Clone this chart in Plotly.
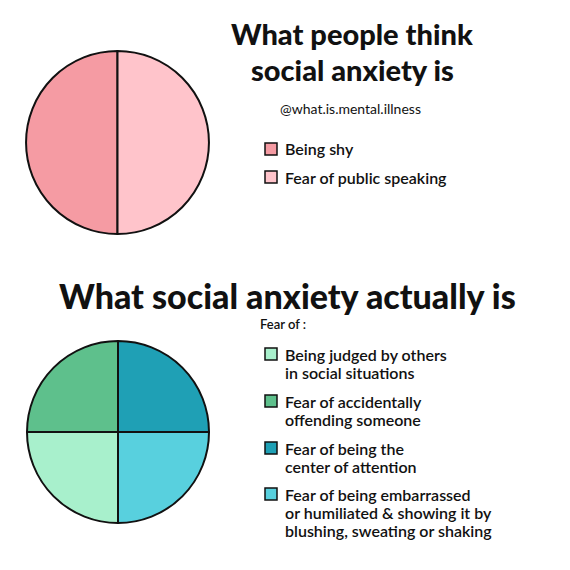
import plotly.graph_objects as go

# ---- data ----
think_labels = ["Being shy", "Fear of public speaking"]
think_values = [50, 50]
think_colors = ["#F59BA3", "#FFC4CB"]

actual_labels = [
    "Being judged by others<br>in social situations",
    "Fear of accidentally<br>offending someone",
    "Fear of being the<br>center of attention",
    "Fear of being embarrassed<br>or humiliated & showing it by<br>blushing, sweating or shaking",
]
actual_values = [25, 25, 25, 25]
actual_colors = ["#A8F0CC", "#5EC08C", "#1FA0B5", "#58D0DE"]

title_top = ["What people think", "social anxiety is"]
handle = "@what.is.mental.illness"
title_bottom = "What social anxiety actually is"
fear_of = "Fear of :"

W = H = 570
FONT = "Lato"


def px(x):
    return x / W


def py(y):
    return 1 - y / H


fig = go.Figure()

# top pie: two halves, clockwise from 6 o'clock so the first half sits on the left
fig.add_trace(go.Pie(
    labels=think_labels, values=think_values, sort=False,
    direction="clockwise", rotation=180,
    marker=dict(colors=think_colors, line=dict(color="#111111", width=2)),
    textinfo="none", hoverinfo="label", showlegend=False,
    domain=dict(x=[px(26), px(209)], y=[py(234), py(51)]),
))

# bottom pie: four quarters, clockwise from 6 o'clock
fig.add_trace(go.Pie(
    labels=actual_labels, values=actual_values, sort=False,
    direction="clockwise", rotation=180,
    marker=dict(colors=actual_colors, line=dict(color="#111111", width=2)),
    textinfo="none", hoverinfo="label", showlegend=False,
    domain=dict(x=[px(27), px(209)], y=[py(523), py(341)]),
))

annotations = []
shapes = []


def text(x, y, s, size, weight=400, xanchor="left"):
    annotations.append(dict(
        x=px(x), y=py(y), xref="paper", yref="paper", text=s, showarrow=False,
        xanchor=xanchor, yanchor="middle", align="left",
        font=dict(family=FONT, size=size, color="#111111", weight=weight),
    ))


def swatch(x, y, color):
    shapes.append(dict(
        type="rect", xref="paper", yref="paper",
        x0=px(x), x1=px(x + 12), y0=py(y + 6), y1=py(y - 6),
        fillcolor=color, line=dict(color="#111111", width=1.5),
    ))


# headings
for i, line in enumerate(title_top):
    text(352, 34 + i * 36, line, 29, 900, "center")
text(350, 108, handle, 14, 400, "center")
text(287, 296, title_bottom, 34, 900, "center")
text(258, 324, fear_of, 13, 600)

# top legend
for i, (lab, col) in enumerate(zip(think_labels, think_colors)):
    y = 149 + i * 28
    swatch(265, y, col)
    text(283, y, lab, 16, 600)

# bottom legend
starts = [354, 401, 448, 494]
for lab, col, y0 in zip(actual_labels, actual_colors, starts):
    swatch(265, y0, col)
    for j, line in enumerate(lab.split("<br>")):
        text(283, y0 + j * 18, line, 16, 600)

fig.update_layout(
    width=W, height=H, margin=dict(l=0, r=0, t=0, b=0),
    paper_bgcolor="white", plot_bgcolor="white",
    annotations=annotations, shapes=shapes,
)

fig.write_html("out.html")
